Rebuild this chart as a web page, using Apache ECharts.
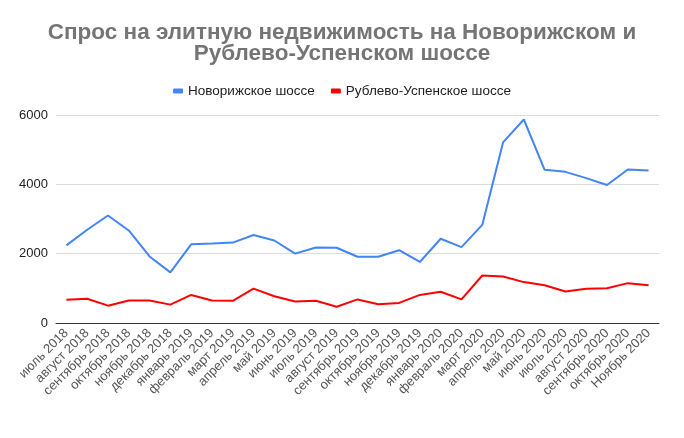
<!DOCTYPE html>
<html>
<head>
<meta charset="utf-8">
<script src="https://cdn.jsdelivr.net/npm/echarts@6/dist/echarts.min.js"></script>
<style>html,body{margin:0;padding:0;background:#fff}#c{width:684px;height:438px}</style>
</head>
<body>
<div id="c"></div>
<script>
const categories = ['июль 2018','август 2018','сентябрь 2018','октябрь 2018','ноябрь 2018','декабрь 2018','январь 2019','февраль 2019','март 2019','апрель 2019','май 2019','июнь 2019','июль 2019','август 2019','сентябрь 2019','октябрь 2019','ноябрь 2019','декабрь 2019','январь 2020','февраль 2020','март 2020','апрель 2020','май 2020','июнь 2020','июль 2020','август 2020','сентябрь 2020','октябрь 2020','Ноябрь 2020'];
const novorizhskoe = [2240,2690,3100,2670,1920,1460,2270,2290,2320,2540,2380,2000,2180,2170,1910,1910,2100,1760,2430,2190,2830,5210,5870,4420,4360,4180,3980,4430,4400];
const rublevo = [670,700,500,650,650,530,810,650,640,990,770,620,640,470,680,540,580,810,900,680,1370,1340,1180,1090,910,990,1000,1150,1090];
const yTicks = [0,2000,4000,6000];

const chart = echarts.init(document.getElementById('c'), null, {renderer:'canvas'});
chart.setOption({
  animation:false,
  title:{
    text:'Спрос на элитную недвижимость на Новорижском и\nРублево-Успенском шоссе',
    left:'center', top:17,
    textStyle:{fontFamily:'Liberation Sans', fontSize:22.5, fontWeight:'bold', color:'#757575', lineHeight:21}
  },
  legend:{
    top:79, left:'center', itemWidth:10, itemHeight:5, itemGap:16,
    icon:'roundRect',
    textStyle:{fontFamily:'Liberation Sans', fontSize:13.5, color:'#222'},
    data:['Новорижское шоссе','Рублево-Успенское шоссе']
  },
  grid:{left:56, right:25, top:115, bottom:115, containLabel:false},
  xAxis:{
    type:'category', data:categories, boundaryGap:true,
    axisLine:{lineStyle:{color:'#333', width:1}},
    axisTick:{show:false},
    axisLabel:{rotate:45, interval:0, fontFamily:'Liberation Sans', fontSize:13, color:'#555', margin:8}
  },
  yAxis:{
    type:'value', min:yTicks[0], max:yTicks[yTicks.length-1], interval:2000,
    axisLine:{show:false}, axisTick:{show:false},
    axisLabel:{fontFamily:'Liberation Sans', fontSize:13, color:'#222', margin:8, formatter:function(v){return String(v);}},
    splitLine:{lineStyle:{color:'#dcdcdc', width:1}}
  },
  series:[
    {name:'Новорижское шоссе', type:'line', data:novorizhskoe, symbol:'none', lineStyle:{color:'#4285f4', width:2}, itemStyle:{color:'#4285f4'}},
    {name:'Рублево-Успенское шоссе', type:'line', data:rublevo, symbol:'none', lineStyle:{color:'#ff0000', width:2}, itemStyle:{color:'#ff0000'}}
  ]
});
</script>
</body>
</html>
